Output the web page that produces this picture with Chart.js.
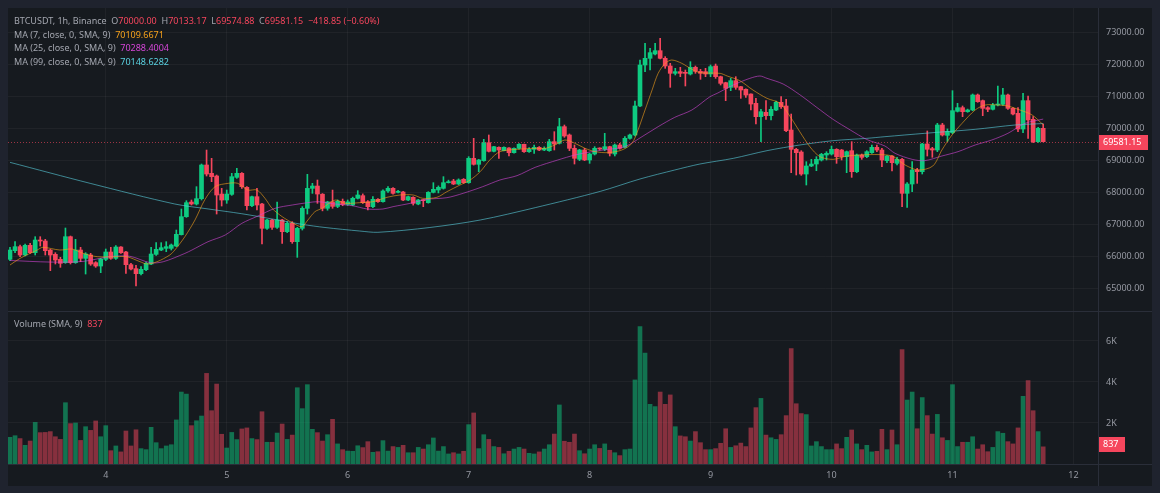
<!DOCTYPE html>
<html>
<head>
<meta charset="utf-8">
<script src="https://cdn.jsdelivr.net/npm/chart.js@4.4.1/dist/chart.umd.min.js"></script>
<style>
  html, body { margin: 0; padding: 0; background: #1f232e; }
  body { width: 1160px; height: 493px; position: relative; overflow: hidden; font-family: "Noto Sans", Roboto, sans-serif; }
  #frame { position: absolute; left: 8px; top: 8px; width: 1144px; height: 478px; background: #161a1f; }
  #priceBox { position: absolute; left: 0; top: 0; width: 1144px; height: 303px; }
  #volBox { position: absolute; left: 0; top: 303px; width: 1144px; height: 175px; }
  .sep-h { position: absolute; left: 0; width: 1144px; height: 1px; background: #2a2e39; }
  .sep-v { position: absolute; top: 0; left: 1090px; width: 1px; height: 478px; background: #2a2e39; }
  .legend { position: absolute; left: 6px; font-size: 9px; line-height: 13px; color: #a3a6af; white-space: nowrap; }
  .red { color: #f6465d; }
  .orange { color: #f7a21b; }
  .magenta { color: #d546d8; }
  .cyan { color: #5ad1e0; }
</style>
</head>
<body>
<div id="frame">
  <div id="priceBox"><canvas id="priceChart" width="1144" height="303"></canvas></div>
  <div id="volBox"><canvas id="volChart" width="1144" height="175"></canvas></div>
  <div class="sep-h" style="top:303px"></div>
  <div class="sep-h" style="top:456px"></div>
  <div class="sep-v"></div>
  <div class="legend" style="top:6px">BTCUSDT, 1h, Binance &nbsp;O<span class="red">70000.00</span> &nbsp;H<span class="red">70133.17</span> &nbsp;L<span class="red">69574.88</span> &nbsp;C<span class="red">69581.15</span> &nbsp;<span class="red">−418.85 (−0.60%)</span></div>
  <div class="legend" style="top:19.5px">MA (7, close, 0, SMA, 9) &nbsp;<span class="orange">70109.6671</span></div>
  <div class="legend" style="top:33px">MA (25, close, 0, SMA, 9) &nbsp;<span class="magenta">70288.4004</span></div>
  <div class="legend" style="top:46.5px">MA (99, close, 0, SMA, 9) &nbsp;<span class="cyan">70148.6282</span></div>
  <div class="legend" style="top:309px">Volume (SMA, 9) &nbsp;<span class="red">837</span></div>
</div>
<script>
// hourly candles, first one at hour 5 (day 3, 05:00)
const firstHour = 5;
const opens = [
  65905,66176,66301,66040,66342,66113,66509,66478,66196,66061,65905,65801,66613,65801,66196,65936,66040,65801,65696,65905,
  66134,65936,66290,66134,65738,65613,65457,65582,65759,66061,66196,66248,66248,66321,66675,67238,67696,67634,67801,68853,
  68592,68509,67946,67759,67936,68467,68592,68155,67582,67863,67634,66874,67134,66905,67134,66769,67030,66457,66874,67499,
  68123,68196,67940,67500,67700,67560,67720,67620,67603,67812,67895,67707,67551,67780,67707,68041,68124,67999,68009,67759,
  67843,67634,67759,67676,67999,68072,68124,68301,68353,68259,68405,68301,69062,68874,68990,69551,69280,69405,69301,69385,
  69239,69374,69499,69270,69343,69405,69322,69300,69582,69530,70051,69791,69374,69030,69322,69010,69197,69374,69343,69426,
  69197,69478,69405,69686,69791,70697,71978,72187,72322,72426,72187,71947,71718,71770,71739,71697,71905,71780,71770,71697,
  71946,71613,71426,71280,71488,71301,71217,71071,70780,70363,70499,70394,70571,70811,70697,69947,69342,69259,68571,68822,
  68884,69009,69165,69196,69342,69321,69113,69301,68644,69165,69113,69238,69405,69321,68989,69134,68905,69030,67968,68259,
  68697,68645,69510,69364,69322,70103,69780,69864,70530,70645,70520,70572,71041,70864,70645,70593,70728,70749,71041,70624,
  70468,69978,70864,70280,69582,70000
];
const highs = [
  66280,66457,66353,66384,66405,66613,66613,66530,66217,66113,65967,66884,66634,66530,66280,66113,66092,65832,65936,66228,
  66280,66332,66301,66155,65780,65717,65675,65821,66280,66426,66426,66457,66384,66821,67478,67738,67759,68176,68884,69321,
  69061,68540,68123,68071,68592,68749,68613,68176,67884,68123,67655,67155,67155,67696,67155,67082,67082,66905,67551,68561,
  68280,68384,67960,67720,68070,67760,67790,67760,67850,68051,67950,67740,67864,67800,68080,68180,68150,68060,68030,67880,
  67860,67780,67770,68020,68301,68200,68489,68380,68405,68420,68430,69114,69687,69030,69655,69791,69440,69420,69420,69400,
  69390,69520,69510,69400,69478,69430,69420,69655,69895,70312,70103,69822,69478,69343,69374,69218,69426,69390,69843,69440,
  69509,69530,69738,69822,70853,72134,72655,72499,72655,72812,72239,72030,71874,71905,71822,72082,71947,71843,71874,71978,
  72009,71630,71440,71561,71613,71310,71230,71080,70936,70592,70863,70676,70853,70988,70905,70446,69373,69301,68957,69030,
  69113,69217,69269,69446,69363,69340,69290,69582,69196,69196,69301,69478,69478,69373,69150,69150,69093,69060,68301,68957,
  68749,69530,69916,69405,70155,70155,69980,71176,70780,70697,70600,71072,71072,70884,70676,70780,71322,71249,71072,70645,
  70645,71090,71009,70364,70030,70133.17
];
const lows = [
  65863,66113,65988,66009,66092,66040,66321,66040,65550,65759,65655,65780,65759,65780,65832,65446,65717,65655,65488,65863,
  65905,65905,66092,65467,65571,65071,65415,65550,65738,66030,66176,66144,66196,66300,66665,67217,67603,67603,67759,68509,
  68332,67321,67571,67655,67905,68436,68123,67446,67551,67446,66384,66842,66842,66874,66405,66738,66405,65967,66821,67321,
  67967,67655,67420,67440,67500,67520,67580,67590,67580,67790,67650,67447,67520,67680,67690,68000,67940,67980,67740,67740,
  67600,67610,67551,67660,67980,67980,68100,68290,68240,68240,68280,68280,68850,68645,68970,69260,69260,69062,69290,69134,
  69220,69350,69250,69250,69218,69300,69300,69280,69322,69509,69718,69301,68884,68989,68989,68905,69166,69320,69301,69135,
  69135,69350,69390,69660,69759,70676,71770,71822,72291,72166,71874,71280,71666,71614,71322,71666,71718,71530,71614,71613,
  71561,71353,70863,71176,71217,70936,70967,70571,70134,69582,70280,70259,70551,70624,69894,68613,68540,68530,68228,68801,
  68676,68978,69009,69165,68905,69009,68613,68467,68613,69030,69082,69217,69269,68801,68926,68666,68853,67551,67530,68020,
  68280,68572,69134,69093,69270,69759,69590,69830,70509,70364,70500,70551,70812,70395,70520,70572,70697,70718,70593,70416,
  69895,69864,69687,69551,69561,69574.88
];
const closes = [
  66196,66301,66040,66342,66113,66509,66478,66176,66040,65884,65780,66613,65801,66196,65936,66071,65759,65696,65915,66134,
  65936,66290,66113,65738,65603,65457,65592,65780,66071,66217,66269,66301,66353,66686,67238,67676,67634,67801,68853,68571,
  68488,67915,67759,67946,68488,68592,68176,67582,67863,67603,66874,67134,66905,67134,66769,67030,66457,66874,67499,68123,
  68196,67946,67500,67700,67560,67720,67620,67700,67812,67916,67676,67551,67780,67707,68041,68124,67968,68020,67759,67864,
  67655,67759,67739,67999,68093,68155,68301,68332,68259,68385,68301,69062,68874,69010,69551,69280,69426,69322,69405,69239,
  69374,69499,69270,69343,69405,69322,69374,69582,69509,70051,69759,69374,69062,69322,69010,69197,69374,69353,69426,69218,
  69478,69374,69686,69791,70697,71978,72187,72364,72426,72187,71947,71718,71770,71718,71718,71905,71780,71718,71697,71926,
  71613,71405,71249,71488,71280,71197,71040,70759,70363,70519,70394,70592,70811,70676,69926,69342,69238,68571,68822,68884,
  69030,69186,69217,69342,69113,69113,69269,68644,69165,69092,69269,69405,69321,69009,69134,68926,69030,67968,68259,68697,
  68645,69510,69343,69322,70103,69791,69900,70551,70645,70520,70572,71041,70832,70624,70593,70728,70760,71041,70624,70447,
  69978,70864,70260,69582,69999,69581.15
];
const volumes = [
  1300,1380,1240,910,1120,2030,1530,1540,1580,1330,1200,2990,1970,2000,1150,1820,1640,2100,1330,1870,
  650,880,590,1610,880,1670,750,700,1790,1040,750,880,940,2150,3510,3410,1870,2110,2340,4420,
  2600,3900,1450,780,1540,1190,1710,1760,1240,1190,2550,1060,1060,1510,1950,1200,1410,3720,2700,3870,
  1690,1530,1120,1430,2180,980,700,630,620,890,800,1090,570,600,1140,630,850,810,910,550,
  550,810,730,940,1270,630,850,490,550,490,620,1920,2490,750,1430,1200,850,810,500,620,
  730,810,730,520,490,590,730,940,1460,2880,1110,1060,1460,650,500,730,940,760,980,670,
  550,410,700,730,4100,6700,5410,2910,2800,3510,2910,3370,1820,1370,1330,1120,1580,1040,700,700,
  750,1010,1720,810,890,1020,850,1760,2750,3200,1410,1280,1200,1430,2360,5630,2940,2460,2410,880,
  1090,850,700,700,980,750,1300,1660,980,700,910,590,620,1690,700,1660,940,5580,3120,3510,
  1720,3240,2360,1460,2420,1280,1150,3870,850,1060,1060,1330,730,940,600,810,1580,1500,1090,980,
  1760,3300,4070,2600,1580,837
];

// moving averages: [hour, value]
const ma7 = [
  [5,65728],[7,65936],[10.4,66196],[11.5,66280],[14.9,66196],[17.3,66228],[19.5,66092],[22.3,65988],[26.2,65988],
  [28.2,65988],[30.8,65832],[32.2,65759],[34.2,65832],[36.7,66040],[37.7,66196],[39.7,66613],[41.7,67134],[43.7,67780],
  [45.7,68176],[48.3,68280],[50.2,68280],[52.2,68071],[54,68071],[55.6,67811],[57,67499],[59,67238],[61,67051],
  [62.9,66926],[64.1,67134],[65.5,67394],[66.9,67499],[69.5,67759],[71.5,67655],[74.4,67676],[77,67707],[79.8,67843],
  [82.4,67916],[85,67916],[86.9,67812],[89.7,67843],[91.7,68020],[94.3,68228],[96.3,68384],[98.3,68645],[100.2,69010],
  [102.2,69270],[105.6,69343],[109.2,69374],[111.2,69374],[113.1,69478],[115.1,69634],[117.1,69530],[119.1,69374],
  [121.1,69270],[123.7,69239],[126.4,69322],[128.4,69530],[129.6,69947],[131,70572],[132.4,71197],[133.6,71718],
  [135,72030],[136.3,72134],[138.3,72030],[140.3,71843],[141.9,71738],[145.9,71717],[147.3,71634],[149.8,71488],
  [152.4,71197],[155.2,70936],[157.8,70780],[159.8,70363],[161.7,69894],[163.7,69425],[165.7,69113],[168.3,69030],
  [171.1,69134],[173.7,69165],[176.6,69180],[180,69134],[182.6,68853],[185.2,68697],[188.1,68822],[189.9,69322],
  [191.9,69791],[193.9,70155],[196.5,70572],[198.5,70728],[201,70728],[203,70697],[205,70593],[207.8,70416],[210,70110]
];
const ma25 = [
  [5,65870],[12.9,65820],[19.5,65840],[24.8,65990],[28.8,66000],[32.8,65800],[35.4,65830],[39.7,66090],[41.1,66196],
  [44.3,66457],[47.7,66665],[51,67030],[54.2,67259],[57.6,67499],[61,67603],[64.1,67676],[66.1,67707],[69.5,67634],
  [72.9,67582],[75.9,67478],[79,67478],[81,67551],[84.4,67655],[87.7,67780],[91.7,67832],[94.9,67968],[98.8,68176],
  [102.2,68384],[105.6,68520],[109.2,68780],[113.7,69010],[117.1,69166],[120.5,69270],[123.7,69343],[127,69426],
  [130.4,69738],[133.6,70051],[136.9,70343],[140.3,70572],[143.9,70989],[145.3,71092],[148.5,71353],[151.8,71561],
  [153.8,71634],[155.2,71561],[158.4,71384],[161.7,71050],[165.1,70650],[168.3,70280],[171.7,69950],[175,69650],
  [178.6,69446],[180.6,69218],[184,69030],[186.5,68989],[189.9,69134],[193.1,69270],[196.5,69478],[199.8,69634],
  [203,69843],[206.4,70155],[210,70288]
];
const ma99 = [
  [5,68936],[20.9,68280],[37.7,67634],[44.3,67480],[51,67330],[57.6,67150],[62.9,67000],[67.5,66900],[74.4,66790],
  [78,66750],[88.3,66900],[98.3,67134],[109.2,67520],[122.1,68028],[130,68416],[136.9,68697],[141.9,68884],
  [148.5,69061],[155.2,69301],[161.7,69478],[168.3,69613],[175,69686],[178.6,69738],[186.5,69843],[196.5,69968],
  [204.4,70103],[210,70149]
];

// x axis: day boundaries in hours and their labels
const dayHours = [24, 48, 72, 96, 120, 144, 168, 192, 216];
const dayLabels = ['4', '5', '6', '7', '8', '9', '10', '11', '12'];
const priceTicks = [65000, 66000, 67000, 68000, 69000, 70000, 71000, 72000, 73000];
const volumeTicks = [2000, 4000, 6000];
const volumeLabels = ['2K', '4K', '6K'];

const UP = '#0ecb81', DOWN = '#f6465d';
const UP_VOL = 'rgba(14,203,129,0.5)', DOWN_VOL = 'rgba(246,70,93,0.5)';
const GRID = 'rgba(255,255,255,0.045)';
const TICK = '#9598a1';

Chart.defaults.font.family = '"Noto Sans", Roboto, sans-serif';
Chart.defaults.font.size = 9;

const hours = closes.map((c, i) => firstHour + i);
const isUp = closes.map((c, i) => c >= opens[i]);
const candleColors = isUp.map(u => u ? UP : DOWN);
const volColors = isUp.map(u => u ? UP_VOL : DOWN_VOL);
const lastClose = closes[closes.length - 1];
const lastVolume = volumes[volumes.length - 1];

const X_MIN = 4.603, X_MAX = 220.873;

function xScale(showLabels) {
    return {
        type: 'linear',
        min: X_MIN,
        max: X_MAX,
        offset: false,
        afterBuildTicks: s => { s.ticks = dayHours.map(v => ({ value: v })); },
        ticks: {
            display: showLabels,
            color: TICK,
            padding: 6,
            maxRotation: 0,
            autoSkip: false,
            callback: v => dayLabels[dayHours.indexOf(v)]
        },
        grid: { color: GRID, drawTicks: false, offset: false },
        border: { display: false },
        afterFit: s => {
            s.height = showLabels ? 22 : 0;
            s.paddingLeft = 0; s.paddingRight = 0;
        }
    };
}

function fixY(s) {
    s.width = 54;
    s.paddingTop = 0; s.paddingBottom = 0;
}

// last value tag on the right axis (+ optional dotted line)
const lastTag = {
    id: 'lastTag',
    afterDatasetsDraw(chart, args, opts) {
        const { ctx, chartArea, scales } = chart;
        const py = Math.round(scales.y.getPixelForValue(opts.value));
        ctx.save();
        if (opts.line) {
            ctx.strokeStyle = 'rgba(246,70,93,0.6)';
            ctx.lineWidth = 1;
            ctx.setLineDash([1, 2]);
            ctx.beginPath();
            ctx.moveTo(chartArea.left, py + 0.5);
            ctx.lineTo(chartArea.right, py + 0.5);
            ctx.stroke();
            ctx.setLineDash([]);
        }
        ctx.fillStyle = DOWN;
        ctx.fillRect(chartArea.right, py - 7 + opts.shift, opts.width, 15);
        ctx.fillStyle = '#ffffff';
        ctx.font = '9px "Noto Sans"';
        ctx.textBaseline = 'middle';
        ctx.textAlign = 'left';
        ctx.fillText(opts.text, chartArea.right + 5, py + 0.5 + opts.shift);
        ctx.restore();
    }
};

const maLine = (pts, color) => ({
    type: 'line',
    data: pts.map(p => ({ x: p[0], y: p[1] })),
    borderColor: color,
    borderWidth: 1,
    pointRadius: 0,
    tension: 0.3,
    order: 0
});

new Chart(document.getElementById('priceChart'), {
    type: 'bar',
    data: {
        datasets: [
            maLine(ma7, 'rgba(247,162,27,0.6)'),
            maLine(ma25, 'rgba(213,70,216,0.6)'),
            maLine(ma99, 'rgba(90,209,224,0.6)'),
            {
                data: hours.map((h, i) => ({ x: h, y: [opens[i], closes[i]] })),
                backgroundColor: candleColors,
                barThickness: 4,
                minBarLength: 1,
                grouped: false,
                order: 1
            },
            {
                data: hours.map((h, i) => ({ x: h, y: [lows[i], highs[i]] })),
                backgroundColor: candleColors,
                barThickness: 1,
                grouped: false,
                order: 2
            }
        ]
    },
    options: {
        responsive: false,
        animation: false,
        events: [],
        layout: { padding: 0 },
        plugins: {
            legend: { display: false },
            tooltip: { enabled: false },
            lastTag: { value: lastClose, text: lastClose.toFixed(2), width: 50, line: true, shift: 0 }
        },
        scales: {
            x: xScale(false),
            y: {
                position: 'right',
                min: 64290.6,
                max: 73759.4,
                afterBuildTicks: s => { s.ticks = priceTicks.map(v => ({ value: v })); },
                ticks: { color: TICK, padding: 8, callback: v => v.toFixed(2) },
                grid: { color: GRID, drawTicks: false },
                border: { display: false },
                afterFit: fixY
            }
        }
    },
    plugins: [lastTag]
});

new Chart(document.getElementById('volChart'), {
    type: 'bar',
    data: {
        datasets: [{
            data: hours.map((h, i) => ({ x: h, y: volumes[i] })),
            backgroundColor: volColors,
            barThickness: 4,
            grouped: false
        }]
    },
    options: {
        responsive: false,
        animation: false,
        events: [],
        layout: { padding: 0 },
        plugins: {
            legend: { display: false },
            tooltip: { enabled: false },
            lastTag: { value: lastVolume, text: String(lastVolume), width: 27, line: false, shift: -3 }
        },
        scales: {
            x: xScale(true),
            y: {
                position: 'right',
                min: 0,
                max: 7463,
                afterBuildTicks: s => { s.ticks = volumeTicks.map(v => ({ value: v })); },
                ticks: { color: TICK, padding: 8, callback: v => volumeLabels[volumeTicks.indexOf(v)] },
                grid: { color: GRID, drawTicks: false },
                border: { display: false },
                afterFit: fixY
            }
        }
    },
    plugins: [lastTag]
});
</script>
</body>
</html>
